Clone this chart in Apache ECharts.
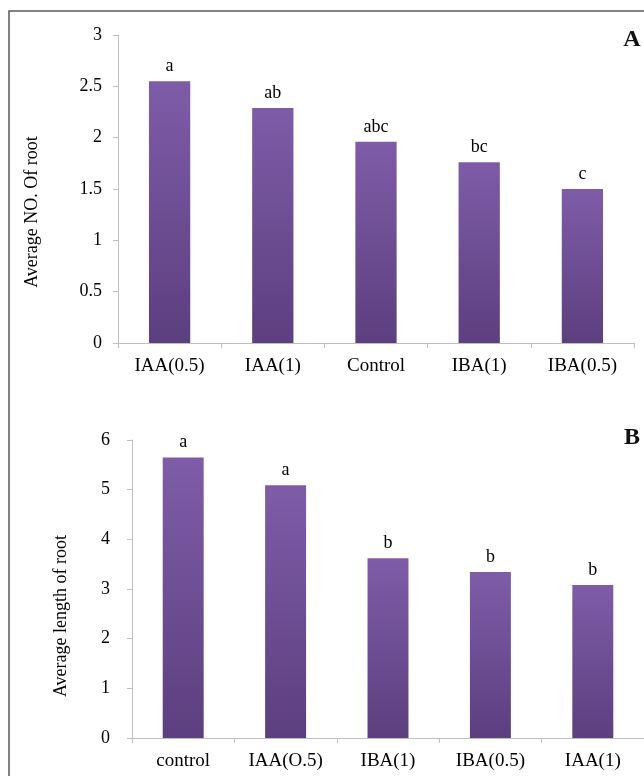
<!DOCTYPE html>
<html>
<head>
<meta charset="utf-8">
<script src="https://cdn.jsdelivr.net/npm/echarts@6/dist/echarts.min.js"></script>
<style>
html,body{margin:0;padding:0;background:#fff;}
#c{width:644px;height:776px;}
</style>
</head>
<body>
<div id="c"></div>
<script>
// Chart A data
const categoriesA = ['IAA(0.5)', 'IAA(1)', 'Control', 'IBA(1)', 'IBA(0.5)'];
const valuesA = [2.55, 2.29, 1.96, 1.76, 1.50];
const lettersA = ['a', 'ab', 'abc', 'bc', 'c'];
// Chart B data
const categoriesB = ['control', 'IAA(O.5)', 'IBA(1)', 'IBA(0.5)', 'IAA(1)'];
const valuesB = [5.65, 5.09, 3.62, 3.34, 3.08];
const lettersB = ['a', 'a', 'b', 'b', 'b'];

const FONT = '"Liberation Serif", "DejaVu Serif", serif';
const axisGray = '#bfbfbf';

const barColor = new echarts.graphic.LinearGradient(0, 0, 0, 1, [
  { offset: 0, color: '#7e5ca7' },
  { offset: 1, color: '#5c3f7f' }
]);

function xAxisCfg(gridIndex, cats) {
  return {
    type: 'category', gridIndex, data: cats,
    axisLine: { lineStyle: { color: axisGray, width: 1 } },
    axisTick: { show: true, length: 5, lineStyle: { color: axisGray } },
    axisLabel: { color: '#000', fontFamily: FONT, fontSize: 19, margin: 14, interval: 0 }
  };
}
function yAxisCfg(gridIndex, max, interval, margin) {
  return {
    type: 'value', gridIndex, min: 0, max, interval,
    axisLine: { show: true, lineStyle: { color: axisGray, width: 1 } },
    axisTick: { show: true, length: 5, lineStyle: { color: axisGray } },
    splitLine: { show: false },
    axisLabel: { color: '#000', fontFamily: FONT, fontSize: 18, margin }
  };
}
function seriesCfg(idx, vals, letters) {
  return {
    type: 'bar', xAxisIndex: idx, yAxisIndex: idx, data: vals,
    barCategoryGap: '60%',
    itemStyle: { color: barColor },
    label: {
      show: true, position: 'top', distance: 6,
      formatter: p => letters[p.dataIndex],
      color: '#000', fontFamily: FONT, fontSize: 18
    }
  };
}

const chart = echarts.init(document.getElementById('c'), null, { renderer: 'canvas' });
chart.setOption({
  animation: false,
  backgroundColor: '#fff',
  grid: [
    { left: 118, top: 35, width: 516, height: 308 },
    { left: 132, top: 440, width: 522, height: 298 }
  ],
  xAxis: [xAxisCfg(0, categoriesA), xAxisCfg(1, categoriesB)],
  yAxis: [yAxisCfg(0, 3, 0.5, 16), yAxisCfg(1, 6, 1, 22)],
  series: [seriesCfg(0, valuesA, lettersA), seriesCfg(1, valuesB, lettersB)],
  graphic: [
    { type: 'rect', shape: { x: 9, y: 11, width: 700, height: 800 },
      style: { fill: 'none', stroke: '#5a5a5a', lineWidth: 1.5 }, silent: true },
    { type: 'text', x: 32, y: 212, rotation: Math.PI / 2,
      style: { text: 'Average NO. Of root', fontFamily: FONT, fontSize: 18, fill: '#000',
               textAlign: 'center', textVerticalAlign: 'middle' } },
    { type: 'text', x: 61, y: 616, rotation: Math.PI / 2,
      style: { text: 'Average length of root', fontFamily: FONT, fontSize: 18, fill: '#000',
               textAlign: 'center', textVerticalAlign: 'middle' } },
    { type: 'text', x: 632, y: 40,
      style: { text: 'A', fontFamily: FONT, fontSize: 24, fontWeight: 'bold', fill: '#111',
               textAlign: 'center', textVerticalAlign: 'middle' } },
    { type: 'text', x: 632, y: 438,
      style: { text: 'B', fontFamily: FONT, fontSize: 24, fontWeight: 'bold', fill: '#111',
               textAlign: 'center', textVerticalAlign: 'middle' } }
  ]
});
</script>
</body>
</html>
